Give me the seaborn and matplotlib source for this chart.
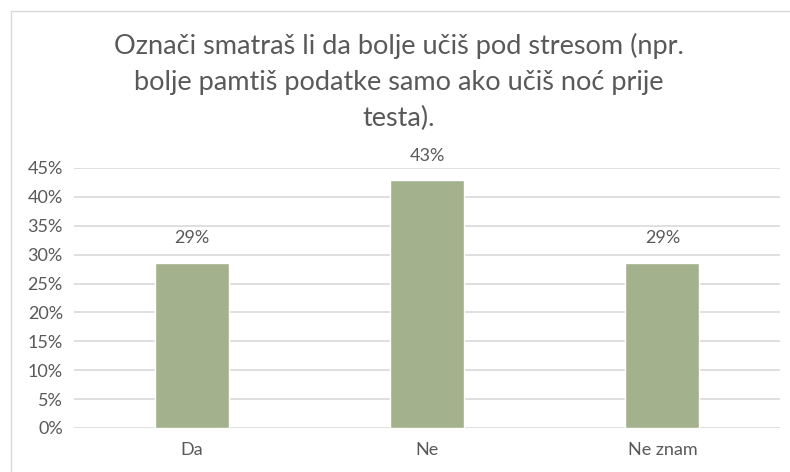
import matplotlib
matplotlib.use("Agg")
import matplotlib.pyplot as plt
from matplotlib.lines import Line2D
from matplotlib.ticker import PercentFormatter, MultipleLocator
import seaborn as sns
import pandas as pd

categories = ["Da", "Ne", "Ne znam"]
values = [0.2857, 0.4286, 0.2857]
title = ("Označi smatraš li da bolje učiš pod stresom (npr.\n"
         "bolje pamtiš podatke samo ako učiš noć prije\n"
         "testa).")

sns.set_theme(style="white")
plt.rcParams["font.family"] = ["Lato", "DejaVu Sans"]

text_color = "#595959"
grid_color = "#D9D9D9"
bar_color = "#A3B18D"

df = pd.DataFrame({"cat": categories, "val": values})

fig = plt.figure(figsize=(7.9, 4.72), dpi=100)
ax = fig.add_axes([74 / 790, 1 - 428 / 472, (780 - 74) / 790, (428 - 168) / 472])

sns.barplot(data=df, x="cat", y="val", color=bar_color, width=0.315,
            saturation=1, ax=ax, zorder=3)

ax.set_ylim(0, 0.45)
ax.yaxis.set_major_locator(MultipleLocator(0.05))
ax.yaxis.set_major_formatter(PercentFormatter(1.0, decimals=0))
ax.grid(axis="y", color=grid_color, linewidth=1.2, zorder=0)
ax.set_axisbelow(True)
for s in ax.spines.values():
    s.set_visible(False)
ax.set_xlabel("")
ax.set_ylabel("")
ax.tick_params(axis="both", length=0, labelsize=13, colors=text_color)
ax.tick_params(axis="x", pad=10)
ax.tick_params(axis="y", pad=8)

for i, v in enumerate(values):
    ax.annotate(f"{v * 100:.0f}%", xy=(i, v), xytext=(0, 12),
                textcoords="offset points", ha="center", va="bottom",
                fontsize=13, color=text_color)

fig.text(399 / 790, 1 - 33 / 472, title, ha="center", va="top",
         fontsize=19.5, color=text_color, linespacing=1.55)

# chart area border (left and top edges visible)
fig.add_artist(Line2D([11 / 790, 11 / 790], [0, 1 - 11 / 472],
                      transform=fig.transFigure, color=grid_color, lw=1))
fig.add_artist(Line2D([11 / 790, 1], [1 - 11 / 472, 1 - 11 / 472],
                      transform=fig.transFigure, color=grid_color, lw=1))

fig.savefig("out.png", dpi=100, facecolor="white")
